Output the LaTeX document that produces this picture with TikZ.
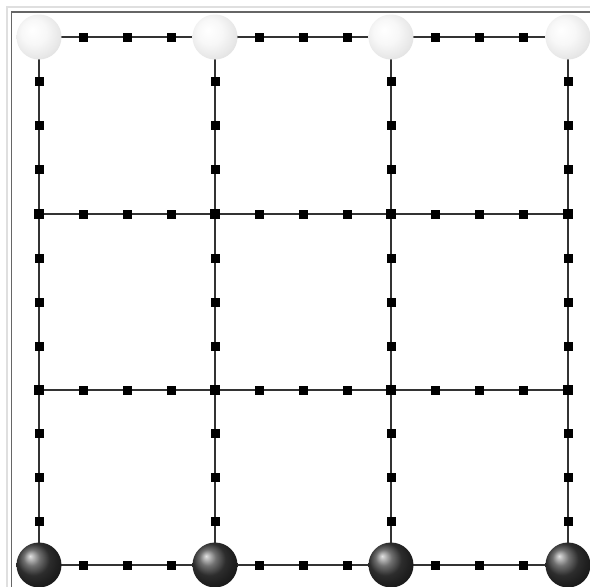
\documentclass[tikz,border=0pt]{standalone}
\usepackage{tikz}
\usetikzlibrary{backgrounds}

\pgfdeclareradialshading{paleball}{\pgfpoint{-8bp}{8bp}}{%
  color(0bp)=(white); color(14bp)=(gray!6); color(26bp)=(gray!18);
  color(40bp)=(gray!35); color(50bp)=(gray!45)}

\tikzset{
  joint/.style={fill=black, minimum size=10pt, inner sep=0pt},
  bead/.style={fill=black, minimum size=9pt, inner sep=0pt},
  lightball/.style={circle, minimum size=45pt, inner sep=0pt, shading=paleball},
  darkball/.style={circle, minimum size=45pt, inner sep=0pt, ball color=black!75},
  rod/.style={draw=black!80, line width=2.6pt},
  frameline/.style={line width=1.5pt}
}

\begin{document}
\begin{tikzpicture}[x=1pt, y=-1pt]
\useasboundingbox (0,0) rectangle (590,587);

%% window frame
\draw[frameline, gray!25] (7,587) -- (7,7) -- (590,7);
\draw[frameline, black!60] (11.5,587) -- (11.5,12) -- (590,12);

%% grid joints
\foreach \i/\x in {0/39, 1/215, 2/391, 3/568} {
  \node (n-\i-0) [lightball] at (\x,37) {};
  \node (n-\i-1) [joint] at (\x,214) {};
  \node (n-\i-2) [joint] at (\x,390) {};
  \node (n-\i-3) [darkball] at (\x,565) {};
}

%% rods with beads
\begin{scope}[on background layer]
\fill[white] (0,0) rectangle (590,587);
\foreach \i [evaluate=\i as \k using int(\i+1)] in {0,1,2} {
  \foreach \j in {0,1,2,3} {
    \draw[rod] (n-\i-\j.center) -- (n-\k-\j.center)
      node[bead, pos=0.25] {} node[bead, pos=0.5] {} node[bead, pos=0.75] {};
  }
}
\foreach \i in {0,1,2,3} {
  \foreach \j [evaluate=\j as \k using int(\j+1)] in {0,1,2} {
    \draw[rod] (n-\i-\j.center) -- (n-\i-\k.center)
      node[bead, pos=0.25] {} node[bead, pos=0.5] {} node[bead, pos=0.75] {};
  }
}
\end{scope}

\end{tikzpicture}
\end{document}
